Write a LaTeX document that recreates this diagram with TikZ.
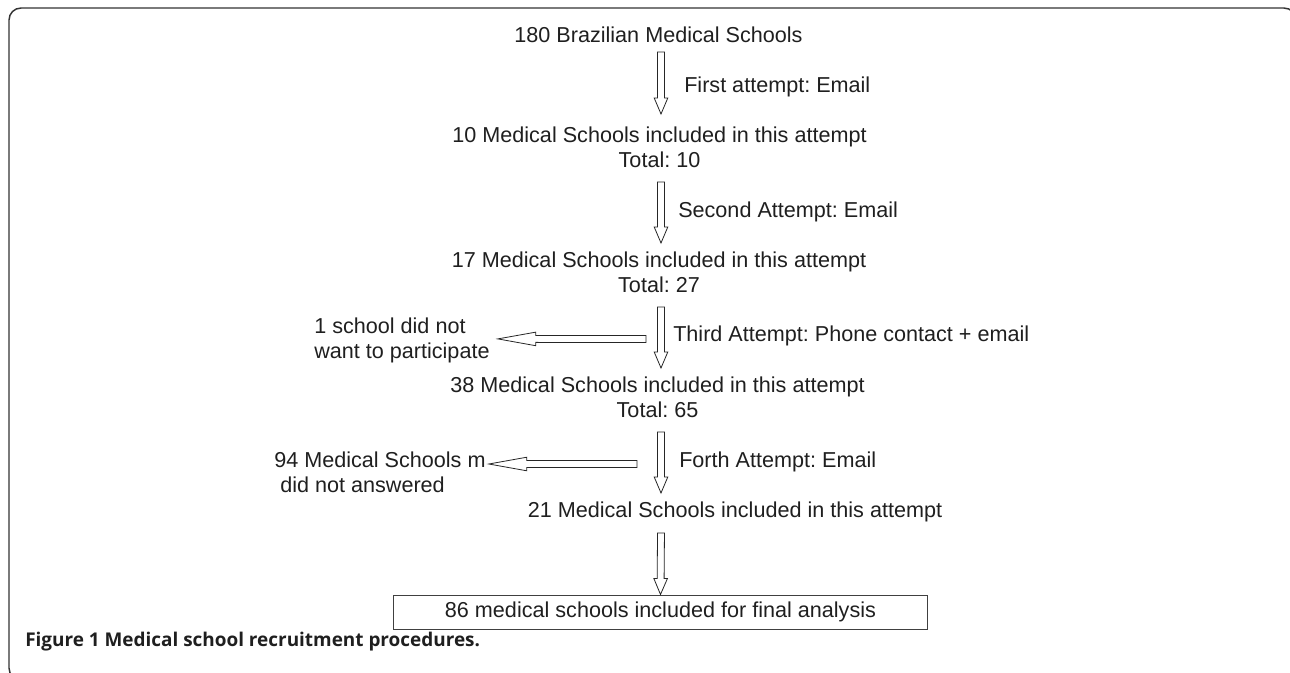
\documentclass[tikz,border=0pt]{standalone}
\usepackage{fontspec}
\setmainfont{Liberation Sans}
\newfontfamily\captionfont{Open Sans}
\usetikzlibrary{calc}

\tikzset{
  txt/.style={inner sep=0pt, text=black!88, font=\fontsize{16.2}{18.75}\selectfont\frenchspacing},
  fatarrow/.style={draw=black!85, fill=white, line width=0.6pt, line join=miter,
    to path={($(\tikztostart)!2.6pt!90:(\tikztotarget)$)
      -- ($(\tikztotarget)!#1!(\tikztostart)!2.6pt!-90:(\tikztostart)$)
      -- ($(\tikztotarget)!#1!(\tikztostart)!5.1pt!-90:(\tikztostart)$)
      -- (\tikztotarget)
      -- ($(\tikztotarget)!#1!(\tikztostart)!5.1pt!90:(\tikztostart)$)
      -- ($(\tikztotarget)!#1!(\tikztostart)!2.6pt!90:(\tikztostart)$)
      -- ($(\tikztostart)!2.6pt!-90:(\tikztotarget)$)
      -- cycle}},
  fatarrow/.default=12pt,
}

\begin{document}
\begin{tikzpicture}[x=0.75pt,y=0.75pt,yscale=-1,xscale=1]
\useasboundingbox (0,0) rectangle (1290,672);

%Rounded Rect [frame]
\draw [draw=black!80, line width=1.1pt, rounded corners=9pt] (9,8) rectangle (1296,680);

% Text Node
\draw (658.5,35) node (t0) [txt] {180 Brazilian Medical Schools};
% Text Node
\draw (659.5,147.6) node (t1) [txt, align=center] {10 Medical Schools included in this attempt\\Total: 10};
% Text Node
\draw (659,272.6) node (t2) [txt, align=center] {17 Medical Schools included in this attempt\\Total: 27};
% Text Node
\draw (657.5,397.6) node (t3) [txt, align=center] {38 Medical Schools included in this attempt\\Total: 65};
% Text Node
\draw (735,512.4) node (t4) [txt] {21 Medical Schools included in this attempt};
% Rect
\draw (660.5,612) node (t5) [txt, draw=black!75, line width=0.75pt, minimum width=401pt, minimum height=25.5pt] {86 medical schools included for final analysis};

% Text Node
\draw (684,87.4) node (l1) [txt, anchor=west] {First attempt: Email};
% Text Node
\draw (678,212.4) node (l2) [txt, anchor=west] {Second Attempt: Email};
% Text Node
\draw (673,336.4) node (l3) [txt, anchor=west] {Third Attempt: Phone contact + email};
% Text Node
\draw (679,462.4) node (l4) [txt, anchor=west] {Forth Attempt: Email};

% Text Node
\draw (314,340.9) node (s3) [txt, anchor=west, align=left] {1 school did not\\want to participate};
% Text Node
\draw (274,472.6) node (s4) [txt, anchor=west, align=left] {94 Medical Schools m\\\hspace*{4.5pt}did not answered};

% Text Node
\draw (25,642) node (cap) [anchor=west, inner sep=0pt, text=black!88, font=\captionfont\bfseries\fontsize{14.2}{16}\selectfont] {Figure 1 Medical school recruitment procedures.};

%Arrow ends
\coordinate (v1a) at ($(t0)+(2.5,17)$);
\coordinate (v1b) at ($(t1)+(1.5,-33.6)$);
\coordinate (v2a) at ($(t1)+(1.5,34.4)$);
\coordinate (v2b) at ($(t2)+(2,-29.6)$);
\coordinate (v3a) at ($(t2)+(2,34.4)$);
\coordinate (v3b) at ($(t3)+(3.5,-29.6)$);
\coordinate (v4a) at ($(t3)+(3.5,34.4)$);
\coordinate (v4b) at ($(t4)+(-74,-19.4)$);
\coordinate (v5a) at ($(t4)+(-74,20.6)$);
\coordinate (h3a) at ($(v3a)!.5!(v3b)+(-15,1.5)$);
\coordinate (h3b) at ($(s3.east)+(8,-2)$);
\coordinate (h4a) at ($(v4a)!.5!(v4b)+(-24,1.5)$);
\coordinate (h4b) at ($(s4.east)+(3,-8.6)$);

%Block Arrows
\draw [fatarrow] (v1a) to (v1b);
\draw [fatarrow] (v2a) to (v2b);
\draw [fatarrow] (v3a) to (v3b);
\draw [fatarrow] (v4a) to (v4b);
\draw [fatarrow] (v5a) to (t5.north);
\draw [fatarrow=28.5pt] (h3a) to (h3b);
\draw [fatarrow=28.5pt] (h4a) to (h4b);
\end{tikzpicture}
\end{document}
